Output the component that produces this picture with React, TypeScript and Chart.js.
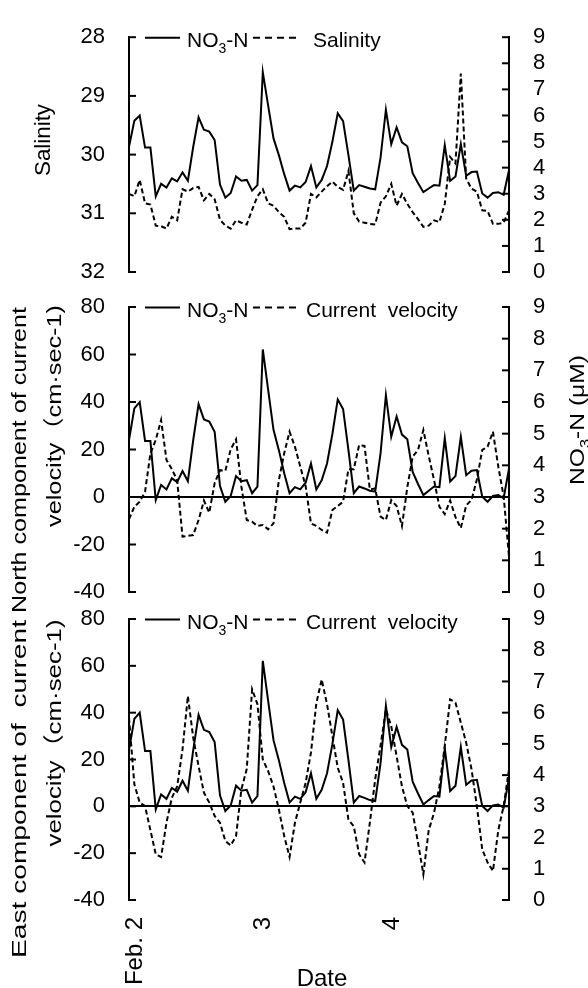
import React, { useEffect, useRef } from "react";
import { Chart, registerables } from "chart.js";

Chart.register(...registerables);

const FONT = '"Liberation Sans", Arial, "Noto Sans CJK JP", sans-serif';

// ---- data (hourly, Feb. 2 00:00 – Feb. 4 23:00) ----
const dayLabels = ["Feb. 2", "3", "4"];
const pointsPerDay = 24;

const nitrate = [
  4.8, 5.8, 6.0, 4.77, 4.77, 2.9, 3.38, 3.24, 3.59, 3.47,
  3.82, 3.5, 4.8, 5.93, 5.45, 5.38, 5.06, 3.35, 2.85, 3.03,
  3.66, 3.5, 3.53, 3.12, 3.33, 7.66, 6.38, 5.12, 4.48, 3.75,
  3.12, 3.31, 3.24, 3.45, 4.06, 3.24, 3.53, 4.06, 4.99, 6.08,
  5.78, 4.48, 3.12, 3.33, 3.27, 3.2, 3.17, 4.38, 6.22, 4.9,
  5.54, 4.97, 4.82, 3.79, 3.41, 3.06, 3.2, 3.33, 3.31, 4.86,
  3.49, 3.66, 4.9, 3.69, 3.83, 3.85, 3.01, 2.85, 3.03, 3.06,
  2.96, 3.9,
];

const salinity = [
  30.67, 30.71, 30.43, 30.83, 30.85, 31.21, 31.22, 31.26, 31.06, 31.12,
  30.59, 30.63, 30.57, 30.55, 30.78, 30.67, 30.76, 31.11, 31.21, 31.26,
  31.12, 31.16, 31.19, 30.94, 30.71, 30.59, 30.83, 30.87, 30.98, 31.06,
  31.27, 31.26, 31.26, 31.16, 30.67, 30.73, 30.63, 30.54, 30.46, 30.55,
  30.6, 30.28, 31.0, 31.14, 31.16, 31.18, 31.19, 30.82, 30.71, 30.5,
  30.87, 30.67, 30.84, 30.98, 31.1, 31.23, 31.21, 31.12, 31.15, 30.84,
  30.04, 30.15, 28.62, 30.41, 30.58, 30.63, 30.95, 30.96, 31.18, 31.18,
  31.16, 30.95,
];

const northVelocity = [
  -9.4, -4.1, -2, 2.2, 18.4, 24, 32.4, 15.6, 11.7, 7.1,
  -16.7, -16.4, -16, -9.7, -1.5, -6.6, 5.8, 11.3, 11, 20.1,
  24.3, 4.35, -9.7, -10.4, -12.2, -11.8, -13.6, -11.1, 7.1, 18.4,
  27.5, 21.2, 12.8, 4.6, -11.1, -12.2, -13.9, -15, -5.5, -3.8,
  -2, 11.7, 11.7, 21.9, 21.5, 3.2, 3.6, -8.3, -9.7, -1.3,
  -3.8, -12.2, 4.1, 17, 19.8, 28.2, 17.3, 7.1, -4.1, -7.2,
  -1.5, -8.5, -13.1, -3.5, -1.3, 7.4, 19.8, 21.2, 27.5, 12.8,
  0.3, -25.1,
];

const eastVelocity = [
  37.9, 9.4, 1.6, 0.1, -10.2, -20.5, -21.6, -7, 3.6, 8.5,
  24.3, 47.1, 29.3, 17.2, 5.8, 1.6, -4.1, -7, -14.8, -16.7,
  -12.7, 7.3, 15.9, 50, 43.6, 20, 15, 8.5, -1.3, -12.7,
  -21.6, -7, 1.6, 10, 23, 44, 54.2, 43.6, 30, 16.5,
  10, -5.7, -8.5, -20.5, -24, -7, 11.6, 25.9, 41.4, 34.2,
  21.4, 8.5, 0.1, -2.7, -15.5, -29, -10.2, -2.7, 8.5, 25.9,
  45.7, 44.3, 35.7, 27.2, 15.8, 0.1, -18.4, -24, -27.6, -10.2,
  0.1, 15.8,
];

const categoryLabels = nitrate.map((_, i) =>
  i % pointsPerDay === 0 ? dayLabels[i / pointsPerDay] ?? "" : ""
);

// ---- text helpers ----
type Run = { t: string; sub?: boolean };

function drawRuns(
  ctx: CanvasRenderingContext2D,
  runs: Run[],
  x: number,
  y: number,
  size: number,
  align: "left" | "center",
  angle = 0,
  len?: number
) {
  ctx.save();
  ctx.translate(x, y);
  if (angle) ctx.rotate(angle);
  const fontFor = (r: Run) => `${r.sub ? Math.round(size * 0.65) : size}px ${FONT}`;
  let w = 0;
  const widths = runs.map((r) => {
    ctx.font = fontFor(r);
    const m = ctx.measureText(r.t).width;
    w += m;
    return m;
  });
  if (len) ctx.scale(len / w, 1);
  let cx = align === "center" ? -w / 2 : 0;
  ctx.textAlign = "left";
  ctx.textBaseline = "alphabetic";
  ctx.fillStyle = "#000";
  runs.forEach((r, i) => {
    ctx.font = fontFor(r);
    ctx.fillText(r.t, cx, r.sub ? size * 0.3 : 0);
    cx += widths[i];
  });
  ctx.restore();
}

type TitleSpec = { runs: Run[]; x: number; y: number; len: number; size: number };

type PanelCfg = {
  key: string;
  series: number[];
  label: string;
  top: number;
  bottom: number;
  yMin: number;
  yMax: number;
  yStep: number;
  reverse: boolean;
  zero: boolean;
  xAxis: boolean;
  legendTextX: number;
  titles: TitleSpec[];
};

const NO3: Run[] = [{ t: "NO" }, { t: "3", sub: true }, { t: "-N" }];

const panels: PanelCfg[] = [
  {
    key: "sal",
    series: salinity,
    label: "Salinity",
    top: 23,
    bottom: 272,
    yMin: 28,
    yMax: 32,
    yStep: 1,
    reverse: true,
    zero: false,
    xAxis: false,
    legendTextX: 184,
    titles: [{ runs: [{ t: "Salinity" }], x: 50, y: 140, len: 72, size: 22 }],
  },
  {
    key: "north",
    series: northVelocity,
    label: "Current  velocity",
    top: 307,
    bottom: 592,
    yMin: -40,
    yMax: 80,
    yStep: 20,
    reverse: false,
    zero: true,
    xAxis: false,
    legendTextX: 177,
    titles: [
      { runs: [{ t: "North component of current" }], x: 26, y: 460, len: 306, size: 21 },
      { runs: [{ t: "velocity（cm·sec-1)" }], x: 61, y: 416, len: 222, size: 21 },
      { runs: [...NO3, { t: " (μM)" }], x: 584, y: 420, len: 130, size: 21 },
    ],
  },
  {
    key: "east",
    series: eastVelocity,
    label: "Current  velocity",
    top: 619,
    bottom: 900,
    yMin: -40,
    yMax: 80,
    yStep: 20,
    reverse: false,
    zero: true,
    xAxis: true,
    legendTextX: 177,
    titles: [
      { runs: [{ t: "East component of  current" }], x: 26, y: 789, len: 338, size: 21 },
      { runs: [{ t: "velocity（cm·sec-1)" }], x: 61, y: 733, len: 227, size: 21 },
    ],
  },
];

function makeDecor(cfg: PanelCfg) {
  return {
    id: "decor-" + cfg.key,
    afterDraw(chart: any) {
      const ctx: CanvasRenderingContext2D = chart.ctx;
      const { left, right, top } = chart.chartArea;
      ctx.save();
      ctx.strokeStyle = "#000";
      ctx.lineWidth = 2;
      ctx.lineCap = "butt";
      // inward tick marks on both value axes
      const axes: [string, number, number][] = [
        ["y", left, 1],
        ["y2", right, -1],
      ];
      axes.forEach(([id, x0, dir]) => {
        const s = chart.scales[id];
        s.ticks.forEach((t: any) => {
          const py = s.getPixelForValue(t.value);
          ctx.beginPath();
          ctx.moveTo(x0 - dir, py);
          ctx.lineTo(x0 + dir * 7, py);
          ctx.stroke();
        });
      });
      // legend
      const ly = top + 0.5;
      ctx.setLineDash([]);
      ctx.beginPath();
      ctx.moveTo(left + 16, ly);
      ctx.lineTo(left + 51, ly);
      ctx.stroke();
      drawRuns(ctx, NO3, left + 58, top + 9.5, 21, "left");
      ctx.setLineDash([7, 5]);
      ctx.beginPath();
      ctx.moveTo(left + 124, ly);
      ctx.lineTo(left + 168, ly);
      ctx.stroke();
      ctx.setLineDash([]);
      drawRuns(ctx, [{ t: cfg.label }], left + cfg.legendTextX, top + 9.5, 21, "left");
      // axis titles
      cfg.titles.forEach((tt) =>
        drawRuns(ctx, tt.runs, tt.x, tt.y, tt.size, "center", -Math.PI / 2, tt.len)
      );
      if (cfg.xAxis) {
        drawRuns(ctx, [{ t: "Date" }], (left + right) / 2 + 3, 986, 24, "center");
      }
      ctx.restore();
    },
  };
}

const W = 588;
const H = 988;

function Panel({ cfg }: { cfg: PanelCfg }) {
  const ref = useRef<HTMLCanvasElement>(null);
  useEffect(() => {
    const tickFont = { family: FONT, size: 22 };
    const chart = new Chart(ref.current as HTMLCanvasElement, {
      type: "line",
      data: {
        labels: categoryLabels,
        datasets: [
          {
            label: "NO3-N",
            data: nitrate,
            yAxisID: "y2",
            borderColor: "#000",
            borderWidth: 2,
            pointRadius: 0,
            fill: false,
            tension: 0,
          },
          {
            label: cfg.label,
            data: cfg.series,
            yAxisID: "y",
            borderColor: "#000",
            borderWidth: 2,
            borderDash: [5, 3],
            pointRadius: 0,
            fill: false,
            tension: 0,
          },
        ],
      },
      plugins: [makeDecor(cfg)],
      options: {
        responsive: false,
        animation: false,
        devicePixelRatio: 1,
        events: [],
        layout: {
          padding: { top: cfg.top, bottom: cfg.xAxis ? 0 : H - cfg.bottom, left: 0, right: 0 },
        },
        plugins: { legend: { display: false }, tooltip: { enabled: false } },
        scales: {
          x: {
            type: "category",
            offset: false,
            display: cfg.xAxis,
            grid: { display: false, drawTicks: false },
            border: { display: false },
            ticks: {
              autoSkip: false,
              maxRotation: 90,
              minRotation: 90,
              padding: 17,
              labelOffset: 6,
              color: "#000",
              font: { family: FONT, size: 24 },
            },
            afterFit: (s: any) => {
              s.height = cfg.xAxis ? H - cfg.bottom : 0;
            },
          },
          y: {
            position: "left",
            min: cfg.yMin,
            max: cfg.yMax,
            reverse: cfg.reverse,
            ticks: {
              stepSize: cfg.yStep,
              autoSkip: false,
              color: "#000",
              font: tickFont,
              padding: 24,
            },
            grid: {
              display: cfg.zero,
              drawTicks: false,
              lineWidth: 2,
              color: (c: any) => (c.tick && c.tick.value === 0 ? "#000" : "rgba(0,0,0,0)"),
            },
            border: { display: true, color: "#000", width: 2 },
            afterFit: (s: any) => {
              s.width = 129;
            },
          },
          y2: {
            position: "right",
            min: 0,
            max: 9,
            ticks: { stepSize: 1, autoSkip: false, color: "#000", font: tickFont, padding: 24 },
            grid: { display: false, drawTicks: false },
            border: { display: true, color: "#000", width: 2 },
            afterFit: (s: any) => {
              s.width = W - 509;
            },
          },
        },
      } as any,
    });
    return () => chart.destroy();
  }, [cfg]);
  return (
    <canvas
      ref={ref}
      width={W}
      height={H}
      style={{ position: "absolute", left: 0, top: 0, width: W, height: H }}
    />
  );
}

export default function App() {
  return (
    <div
      style={{
        position: "absolute",
        left: 0,
        top: 0,
        width: W,
        height: H,
        background: "#fff",
        overflow: "hidden",
      }}
    >
      {panels.map((p) => (
        <Panel key={p.key} cfg={p} />
      ))}
    </div>
  );
}
